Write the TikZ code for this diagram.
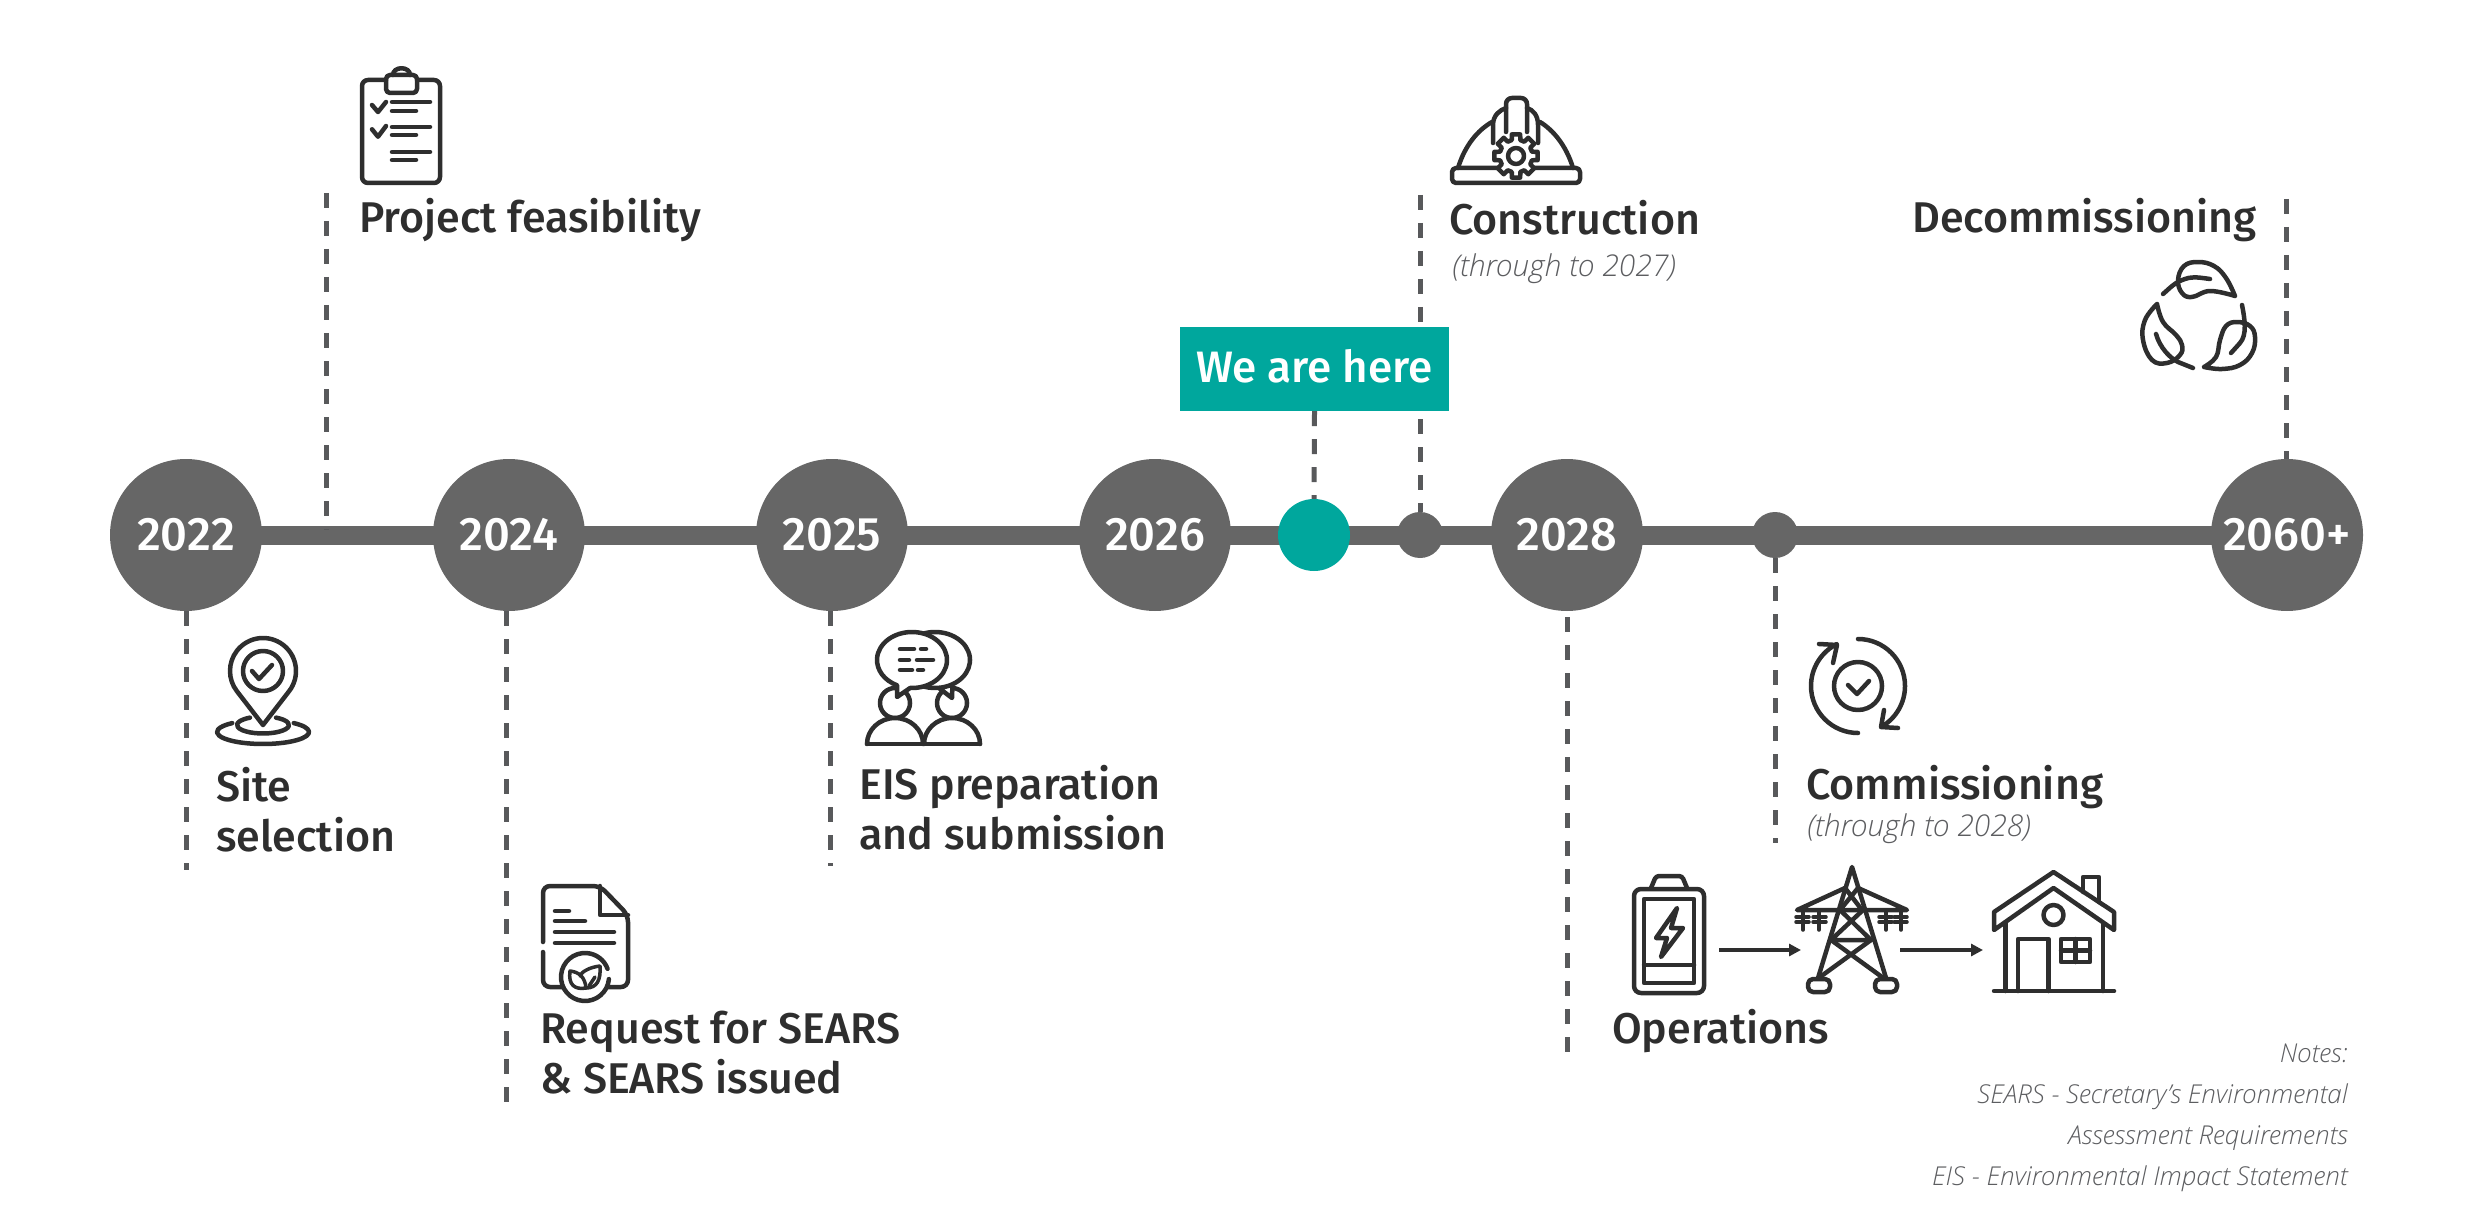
\documentclass[tikz,border=0pt]{standalone}
\usepackage{fontspec}
\usetikzlibrary{arrows.meta,backgrounds}
\newfontfamily\labf{Fira Sans Medium}
\newfontfamily\notef{Open Sans Light Italic}
\definecolor{ink}{HTML}{2E2E2E}
\definecolor{barc}{HTML}{666666}
\definecolor{dashc}{HTML}{58595B}
\definecolor{tealc}{HTML}{00A79D}
\definecolor{notec}{HTML}{5C5D60}
\tikzset{
  year/.style={circle,fill=barc,minimum size=152pt,inner sep=0pt,text=white,font=\labf\fontsize{47}{47}\selectfont},
  dotn/.style={circle,fill=#1,inner sep=0pt},
  barline/.style={draw=barc,line width=19pt},
  dashline/.style={draw=dashc,line width=5pt,dash pattern=on 15pt off 13pt},
  lab/.style={anchor=base west,inner sep=0pt,text=ink,font=\labf\fontsize{43}{43}\selectfont},
  sub/.style={anchor=base west,inner sep=0pt,text=notec,font=\notef\fontsize{30}{30}\selectfont},
  note/.style={anchor=base east,inner sep=0pt,text=notec,font=\notef\fontsize{26}{26}\selectfont},
  icon/.style={draw=ink,line width=4.5pt,line cap=round,line join=round},
  flow/.style={draw=ink,line width=3.2pt,-{Triangle[length=12pt,width=12pt]}}
}
\begin{document}
\begin{tikzpicture}[x=1pt,y=-1pt]
\useasboundingbox (0,0) rectangle (2480,1230);
% free ends of the dashed lines
\coordinate (e22) at (186,870);
\coordinate (pf) at (326,193);
\coordinate (pfb) at (326,530);
\coordinate (e24) at (506,1104);
\coordinate (e25) at (830,866);
\coordinate (e28) at (1567,1056);
\coordinate (ec) at (1420,195);
\coordinate (ecm) at (1775,843);
\coordinate (ed) at (2286,199);
% timeline
\node[year] (c22) at (186,535) {2022};
\node[year] (c24) at (509,535) {2024};
\node[year] (c25) at (832,535) {2025};
\node[year] (c26) at (1155,535) {2026};
\node[year] (c28) at (1567,535) {2028};
\node[year] (c60) at (2287,535) {2060+};
\node[dotn=tealc,minimum size=72pt] (dw) at (1314,535) {};
\node[dotn=barc,minimum size=46pt] (dc) at (1420,535) {};
\node[dotn=barc,minimum size=46pt] (dm) at (1775,535) {};
% we are here
\node[fill=tealc,minimum width=269pt,minimum height=84pt,inner sep=0pt] (here) at (1314.5,369) {};
\node[inner sep=0pt,text=white,anchor=base,font=\labf\fontsize{44}{44}\selectfont] (heret) at (1314.5,382) {We are here};
\begin{scope}[on background layer]
\draw[barline] (c22.center) -- (c24.center);
\draw[barline] (c24.center) -- (c25.center);
\draw[barline] (c25.center) -- (c26.center);
\draw[barline] (c26.center) -- (dw.center);
\draw[barline] (dw.center) -- (dc.center);
\draw[barline] (dc.center) -- (c28.center);
\draw[barline] (c28.center) -- (dm.center);
\draw[barline] (dm.center) -- (c60.center);
\draw[dashline] (c22.south) -- (e22);
\draw[dashline] (pf) -- (pfb);
\draw[dashline] (e24 |- c24.south) -- (e24);
\draw[dashline] (e25 |- c25.south) -- (e25);
\draw[dashline,dash phase=22pt] (c28.south) -- (e28);
\draw[dashline] (ec) -- (dc.north);
\draw[dashline] (dm.south) -- (ecm);
\draw[dashline] (ed) -- (ed |- c60.north);
\draw[dashline] (here.south) -- (dw.north);
\end{scope}
% labels
\node[lab] (tpf) at (359,233) {Project feasibility};
\node[lab] (tc) at (1449,235) {Construction};
\node[sub] (tc2) at (1452,277) {(through to 2027)};
\node[lab,anchor=base east] (td) at (2257,233) {Decommissioning};
\node[lab] (ts1) at (216,801) {Site};
\node[lab] (ts2) at (216,851) {selection};
\node[lab] (te1) at (859,799) {EIS preparation};
\node[lab] (te2) at (859,849) {and submission};
\node[lab] (tr1) at (540,1043) {Request for SEARS};
\node[lab] (tr2) at (540,1093) {\&\ SEARS issued};
\node[lab] (top) at (1612,1043) {Operations};
\node[lab] (tm) at (1806,799) {Commissioning};
\node[sub] (tm2) at (1807,836) {(through to 2028)};
\node[note] (n1) at (2348,1062) {Notes:};
\node[note] (n2) at (2348,1103) {SEARS - Secretary’s Environmental};
\node[note] (n3) at (2348,1144) {Assessment Requirements};
\node[note] (n4) at (2348,1185) {EIS - Environmental Impact Statement};
% clipboard
\begin{scope}[icon]
\draw[rounded corners=6pt] (386,80) -- (362,80) -- (362,183) -- (440,183) -- (440,80) -- (417,80);
\draw[rounded corners=4pt] (386,75) rectangle (417,93);
\draw (393,75) .. controls (393,66) and (410,66) .. (410,75);
\draw (372,105) -- (378,112) -- (386,102);
\draw (372,129.3) -- (378,136.7) -- (386,126);
\draw (392,102) -- (430,102) (392,111) -- (416,111);
\draw (392,127) -- (430,127) (392,135) -- (416,135);
\draw (392,152) -- (430,152) (392,160) -- (416,160);
\end{scope}
% hard hat
\begin{scope}[icon]
\draw[rounded corners=4pt] (1452,168) rectangle (1580,183);
\draw (1458,168) .. controls (1465,145) and (1478,130) .. (1492,122);
\draw (1573,168) .. controls (1566,145) and (1553,130) .. (1540,122);
\draw[rounded corners=6pt] (1506,132) -- (1506,98) -- (1527,98) -- (1527,132);
\draw (1493,143) -- (1493,125) .. controls (1493,115) and (1500,110) .. (1506,108);
\draw (1538,143) -- (1538,125) .. controls (1538,115) and (1533,110) .. (1527,108);
\begin{scope}[shift={(1516,156)}]
\draw[fill=white] (-11:22) \foreach \a in {0,45,...,315} { -- (\a-11:22) -- (\a+11:22) -- (\a+15:16.5) -- (\a+30:16.5) } -- cycle;
\draw (0,0) circle[radius=8];
\end{scope}
\end{scope}
% leaves
\begin{scope}[icon]
\draw plot[smooth,tension=.7] coordinates {(2235,296) (2226,278) (2214,266) (2198,262) (2184,266) (2178,280) (2182,293) (2192,297) (2210,291) (2235,296)};
\draw (2163,294) .. controls (2170,288) and (2175,282) .. (2185,279) .. controls (2193,276) and (2202,278) .. (2210,279);
\draw plot[smooth,tension=.7] coordinates {(2157,304) (2145,320) (2143,340) (2152,360) (2167,363) (2180,355) (2182,345) (2176,335) (2163,322) (2157,304)};
\draw (2156,334) .. controls (2160,348) and (2170,358) .. (2178,362) -- (2193,368);
\draw plot[smooth,tension=.7] coordinates {(2204,367) (2222,369) (2240,365) (2252,353) (2255,337) (2250,326) (2237,322) (2226,326) (2220,340) (2216,357) (2204,367)};
\draw (2242,305) .. controls (2245,320) and (2247,335) .. (2240,343) -- (2231,353);
\end{scope}
% pin
\begin{scope}[icon]
\draw (263,671) ++(37.7:33) arc[start angle=37.7,end angle=-217.7,radius=33] -- (263,725) -- cycle;
\draw (263,671) circle[radius=20];
\draw (252,671) -- (259,679) -- (272,665);
\draw (263,725) ++(300:26 and 8.5) arc[start angle=300,end angle=600,x radius=26,y radius=8.5];
\draw (263,732) ++(312:46 and 12) arc[start angle=312,end angle=588,x radius=46,y radius=12];
\end{scope}
% people
\begin{scope}[icon]
\draw (895,703) circle[radius=15];
\draw (952,703) circle[radius=15];
\draw[fill=white] (935,660) ++(84:35 and 28) arc[start angle=84,end angle=-300,x radius=35,y radius=28] -- (952,698) -- cycle;
\draw[fill=white] (912,660) ++(93:35 and 28) arc[start angle=93,end angle=-245,x radius=35,y radius=28] -- (897,697) -- cycle;
\draw (900,649) -- (914,649) (921,649) -- (926,649);
\draw (900,660) -- (909,660) (917,660) -- (933,660);
\draw (900,670) -- (912,670) (918,670) -- (923,670);
\draw[fill=white] (867,744) arc[start angle=180,end angle=360,x radius=28,y radius=26];
\draw[fill=white] (924,744) arc[start angle=180,end angle=360,x radius=28,y radius=26];
\draw (867,744) -- (980,744);
\end{scope}
% document
\begin{scope}[icon]
\draw[rounded corners=7pt] (543,942) -- (543,886) -- (600,886) -- (628,915) -- (628,987) -- (608,987);
\draw[rounded corners=7pt] (543,952) -- (543,987) -- (562,987);
\draw (600,886) -- (600,915) -- (628,915);
\draw (555,911) -- (569,911) (555,921) -- (585,921) (555,932) -- (614,932) (555,943) -- (614,943);
\draw (585,977) ++(5:24) arc[start angle=5,end angle=340,radius=24];
\draw[line width=3.5pt] (570,971) .. controls (579,972) and (585,977) .. (586,988) .. controls (575,990) and (568,985) .. cycle;
\draw[line width=3.5pt] (600,966) .. controls (590,967) and (581,972) .. (580,976) (586,988) .. controls (597,988) and (601,980) .. (600,966);
\draw[line width=3.5pt] (589,986) -- (595,977);
\end{scope}
% commissioning
\begin{scope}[icon]
\draw (1858,686) circle[radius=24];
\draw (1848,685) -- (1857,694) -- (1869,681);
\draw (1858,733) arc[start angle=90,end angle=243,radius=47];
\draw (1819,644) -- (1837,645) -- (1833,663);
\draw (1858,639) arc[start angle=270,end angle=420,radius=47];
\draw (1898,728) -- (1881,727) -- (1884,710);
\end{scope}
% battery
\begin{scope}[icon]
\draw[rounded corners=7pt] (1634,889) rectangle (1704,993);
\draw[rounded corners=3pt] (1651,888) -- (1656,876) -- (1682,876) -- (1687,888);
\draw (1644,899) rectangle (1694,983);
\draw (1644,965) -- (1694,965);
\draw (1677,908) -- (1656,938) -- (1667,938) -- (1661,957) -- (1683,928) -- (1671,928) -- cycle;
\end{scope}
% tower
\begin{scope}[icon]
\draw (1818,978) -- (1852,867) -- (1886,978);
\draw (1845,888) -- (1797,910) -- (1907,910) -- (1858,888);
\draw (1845,888) -- (1862,910) (1858,888) -- (1840,910);
\draw (1840,910) -- (1871,940) (1863,910) -- (1831,940) (1831,940) -- (1871,940);
\draw (1831,940) -- (1882,977) (1871,940) -- (1820,977);
\draw[line width=3.5pt] (1803,910) -- (1803,930) (1819,910) -- (1819,930) (1886,910) -- (1886,930) (1901,910) -- (1901,930);
\draw[line width=3.5pt] (1796,917) -- (1809,917) (1796,922) -- (1809,922) (1813,917) -- (1826,917) (1813,922) -- (1826,922);
\draw[line width=3.5pt] (1879,917) -- (1892,917) (1879,922) -- (1892,922) (1894,917) -- (1907,917) (1894,922) -- (1907,922);
\draw[rounded corners=5pt,fill=white] (1808,992) -- (1808,979) -- (1830,979) -- (1830,992) -- cycle;
\draw[rounded corners=5pt,fill=white] (1875,992) -- (1875,979) -- (1897,979) -- (1897,992) -- cycle;
\end{scope}
% house
\begin{scope}[icon]
\draw (1994,930) -- (1994,912) -- (2053.5,872) -- (2114,912) -- (2114,930) -- (2053.5,888) -- cycle;
\draw (2083,892) -- (2083,877) -- (2099,877) -- (2099,902);
\draw (2005.5,923) -- (2005.5,991) (2103,923) -- (2103,991);
\draw (1994,991) -- (2114,991);
\draw (2053.5,915) circle[radius=10];
\draw (2018,991) -- (2018,939) -- (2048.5,939) -- (2048.5,991);
\draw (2061,939) rectangle (2090,962);
\draw (2075.5,939) -- (2075.5,962) (2061,950.5) -- (2090,950.5);
\end{scope}
% flow arrows
\coordinate (batt) at (1719,950);
\coordinate (towl) at (1801,950);
\coordinate (towr) at (1900,950);
\coordinate (hous) at (1983,950);
\draw[flow] (batt) -- (towl);
\draw[flow] (towr) -- (hous);
\end{tikzpicture}
\end{document}
